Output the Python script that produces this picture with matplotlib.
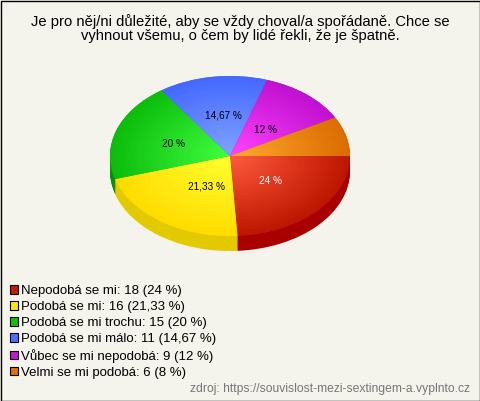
"""Pie chart with fake 3D side, radial gradients on the slices"""

import numpy as np
import matplotlib
matplotlib.use("Agg")
import matplotlib.pyplot as plt
from matplotlib.colors import to_rgb
from matplotlib.patches import Patch, Rectangle

plt.rcParams['font.family'] = ['Liberation Sans', 'DejaVu Sans']

# Data
TITLE = ("Je pro něj/ni důležité, aby se vždy choval/a spořádaně. Chce se\n"
         "vyhnout všemu, o čem by lidé řekli, že je špatně.")
SOURCE = "zdroj: https://souvislost-mezi-sextingem-a.vyplnto.cz"
categories = ["Nepodobá se mi", "Podobá se mi", "Podobá se mi trochu",
              "Podobá se mi málo", "Vůbec se mi nepodobá", "Velmi se mi podobá"]
counts = [18, 16, 15, 11, 9, 6]

# Colours
BG = "#f4f3ec"
inner_colors = ["#ff5c3e", "#ffff30", "#40ff40", "#82a4ff", "#ff44ff", "#ffaa30"]
outer_colors = ["#bd1600", "#ffdc00", "#0cbc0c", "#4468ff", "#c010d0", "#dc6c00"]
side_colors = ["#a80000", "#e2c900", "#089008", "#3050c0", "#9010a0", "#b05000"]
legend_colors = ["#c41e00", "#ffe600", "#10c010", "#4a70ff", "#c814d8", "#e07000"]

# Geometry in pixels
W, H = 480, 401
CX, CY = 230, 156
RX, RY = 120, 80
DEPTH = 15


def pct_text(pct):
    return f"{pct:.2f}".rstrip('0').rstrip('.').replace('.', ',') + " %"


def draw_pie(ax):
    """Stacked dark pies make the side, gradient images clipped to wedges the top"""
    for d in range(DEPTH, 0, -1):
        ax.pie(counts, colors=side_colors, counterclock=False, center=(0, -d / RY))

    wedges, _, autotexts = ax.pie(
        counts, colors=outer_colors, counterclock=False, pctdistance=0.46,
        autopct=lambda p: pct_text(p) if p > 10 else "",
        textprops={'fontsize': 7.2, 'color': 'black'})
    autotexts[0].set_color('white')

    # labels sit a bit off the mid angle in the original
    nudges = [(0, 0), (8, 0), (-4, 0), (2, 4), (0, -2), (0, 0)]
    for t, (dx, dy) in zip(autotexts, nudges):
        x, y = t.get_position()
        t.set_position((x + dx / RX, y + dy / RY))

    xx, yy = np.meshgrid(np.linspace(-1, 1, 480), np.linspace(-1, 1, 320))
    r = np.clip(np.hypot(xx, yy), 0, 1)[..., None]
    for wedge, c_in, c_out in zip(wedges, inner_colors, outer_colors):
        grad = np.array(to_rgb(c_in)) * (1 - r) + np.array(to_rgb(c_out)) * r
        im = ax.imshow(grad, extent=(-1, 1, -1, 1), origin='lower', aspect='auto', zorder=1.5)
        im.set_clip_path(wedge)
    for t in autotexts:
        t.set_zorder(3)

    ax.set_aspect('auto')
    ax.set_xlim(-1.1, 1.1)
    ax.set_ylim(-1.3, 1.1)


def main():
    fig = plt.figure(figsize=(W / 100, H / 100), dpi=100, facecolor=BG)

    # overlay in pixel coordinates for texts, legend and frame
    over = fig.add_axes([0, 0, 1, 1])
    over.set_xlim(0, W)
    over.set_ylim(H, 0)
    over.axis('off')

    left = CX - 1.1 * RX
    bottom = H - (CY + 1.3 * RY)
    ax = fig.add_axes([left / W, bottom / H, 2.2 * RX / W, 2.4 * RY / H])
    draw_pie(ax)

    over.text(240, 28.5, TITLE, ha='center', va='center', fontsize=10.65,
              linespacing=1.03, color='black')
    over.text(470, 389, SOURCE, ha='right', va='center', fontsize=8.7, color='#777777')

    total = sum(counts)
    labels = [f"{c}: {n} ({pct_text(100 * n / total)})" for c, n in zip(categories, counts)]
    handles = [Patch(facecolor=col, edgecolor='black', linewidth=0.8) for col in legend_colors]
    over.legend(handles, labels, loc='upper left', bbox_to_anchor=(9.5, 285),
                bbox_transform=over.transData, frameon=False, fontsize=9.5,
                handlelength=0.62, handleheight=0.62, handletextpad=0.25,
                labelspacing=0.3, borderpad=0, borderaxespad=0)

    over.add_patch(Rectangle((0.5, 0.5), W - 1, H - 1, fill=False, edgecolor='black', linewidth=1))

    fig.savefig('out.png', dpi=100, facecolor=BG)


if __name__ == "__main__":
    main()
